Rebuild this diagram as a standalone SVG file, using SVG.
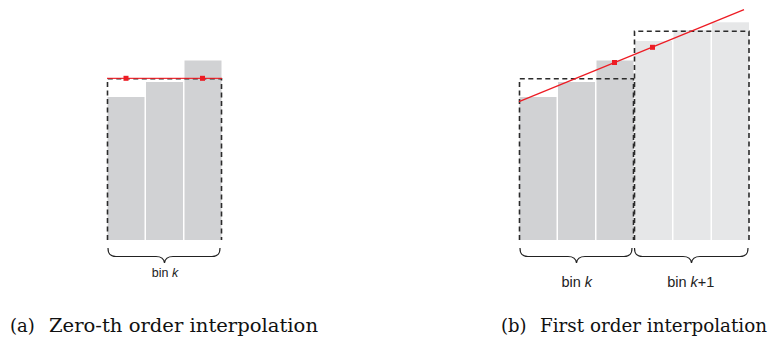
<svg xmlns="http://www.w3.org/2000/svg" width="776" height="343" viewBox="0 0 776 343">
<style>
.bd{fill:#d1d2d4}
.bl{fill:#e6e7e8}
.dash{fill:none;stroke:#2b2b2b;stroke-width:1.6;stroke-dasharray:5 3.5}
.red{fill:none;stroke:#ed1c24;stroke-width:1.3}
.sq{fill:#ed1c24}
.brace{fill:none;stroke:#222;stroke-width:1.2}
.lbl{font-family:"Liberation Sans",Arial,sans-serif;fill:#222}
.cap{font-family:"DejaVu Serif","Liberation Serif",serif;font-size:18px;fill:#111}
</style>
<rect width="776" height="343" fill="#fff"/>
<g id="panel-a">
  <g id="bars-a">
    <rect class="bd" x="107.5" y="97" width="37" height="143"/>
    <rect class="bd" x="146" y="82" width="37" height="158"/>
    <rect class="bd" x="184.5" y="60.5" width="37" height="179.5"/>
  </g>
  <path id="bin-a" class="dash" d="M107.5,240 V78.8 H221.5 V240"/>
  <g id="fit-a">
    <line class="red" x1="107" y1="78.3" x2="222" y2="78.3" opacity="0.9"/>
    <rect class="sq" x="123.5" y="75.8" width="5" height="5"/>
    <rect class="sq" x="200" y="75.8" width="5" height="5"/>
  </g>
  <g id="brace-a">
    <path class="brace" d="M108,248 C108,254 110,256.5 116,256.5 L156,256.5 C161,256.5 164,259 164.5,263 C165,259 168,256.5 173,256.5 L212,256.5 C218,256.5 220,254 220,248"/>
    <text class="lbl" x="165" y="277" font-size="12.5" text-anchor="middle">bin <tspan font-style="italic">k</tspan></text>
  </g>
</g>
<g id="panel-b">
  <g id="bars-b">
    <rect class="bd" x="519.5" y="97" width="37" height="143"/>
    <rect class="bd" x="558" y="82" width="37" height="158"/>
    <rect class="bd" x="596.5" y="60.5" width="37" height="179.5"/>
    <rect class="bl" x="635" y="41" width="37" height="199"/>
    <rect class="bl" x="673.5" y="30" width="37" height="210"/>
    <rect class="bl" x="712" y="22.3" width="37" height="217.7"/>
  </g>
  <path id="bin-k" class="dash" d="M519.5,240 V78.8 H633.5 V240"/>
  <path id="bin-k1" class="dash" d="M634.5,240 V31.3 H749 V240"/>
  <g id="fit-b">
    <line class="red" x1="519" y1="101.7" x2="744" y2="9.7"/>
    <rect class="sq" x="612" y="60" width="5" height="5"/>
    <rect class="sq" x="650" y="44.8" width="5" height="5"/>
  </g>
  <g id="brace-b1">
    <path class="brace" d="M520,248 C520,254 522,256.5 528,256.5 L568,256.5 C573,256.5 576,259 576.5,263 C577,259 580,256.5 585,256.5 L624,256.5 C630,256.5 632,254 632,248"/>
    <text class="lbl" x="576.7" y="287" font-size="14.5" text-anchor="middle">bin <tspan font-style="italic">k</tspan></text>
  </g>
  <g id="brace-b2">
    <path class="brace" d="M634.5,248 C634.5,254 636.5,256.5 642.5,256.5 L683,256.5 C688,256.5 691,259 691.5,263 C692,259 695,256.5 700,256.5 L740,256.5 C746,256.5 748,254 748,248"/>
    <text class="lbl" x="690.8" y="287" font-size="14.5" text-anchor="middle">bin <tspan font-style="italic">k</tspan>+1</text>
  </g>
</g>
<g id="captions">
  <text class="cap" x="10" y="331.5">(a)</text>
  <text class="cap" x="49" y="331.5" textLength="269" lengthAdjust="spacingAndGlyphs">Zero-th order interpolation</text>
  <text class="cap" x="501" y="331.5">(b)</text>
  <text class="cap" x="540" y="331.5" textLength="227" lengthAdjust="spacingAndGlyphs">First order interpolation</text>
</g>
</svg>
